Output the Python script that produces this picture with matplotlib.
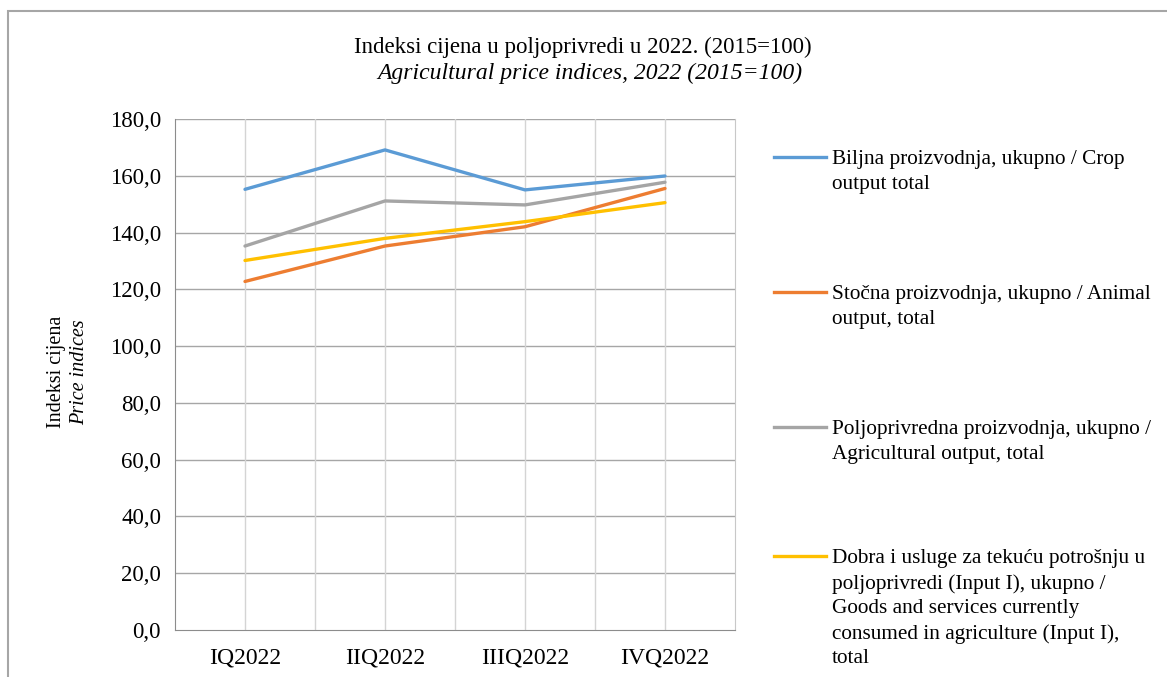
import matplotlib
matplotlib.use("Agg")
import matplotlib.pyplot as plt
from matplotlib.lines import Line2D
from matplotlib.patches import Rectangle

categories = ["IQ2022", "IIQ2022", "IIIQ2022", "IVQ2022"]
crop = [155.3, 169.2, 155.1, 160.0]
animal = [122.8, 135.3, 142.1, 155.6]
agri = [135.3, 151.2, 149.8, 157.8]
inputs = [130.2, 138.0, 143.9, 150.6]
labels = [
    "Biljna proizvodnja, ukupno / Crop\noutput total",
    "Stočna proizvodnja, ukupno / Animal\noutput, total",
    "Poljoprivredna proizvodnja, ukupno /\nAgricultural output, total",
    "Dobra i usluge za tekuću potrošnju u\npoljoprivredi (Input I), ukupno /\nGoods and services currently\nconsumed in agriculture (Input I),\ntotal",
]
colors = ["#5B9BD5", "#ED7D31", "#A5A5A5", "#FFC000"]
yticks = [0, 20, 40, 60, 80, 100, 120, 140, 160, 180]

plt.rcParams['font.family'] = ['Liberation Serif', 'DejaVu Serif']

W, H = 1167, 677
fig = plt.figure(figsize=(W / 100, H / 100), dpi=100)

# border
fig.patches.append(Rectangle((8 / W, -0.1), 1.2, (H - 11) / H + 0.1, transform=fig.transFigure,
                             fill=False, edgecolor="#a6a6a6", linewidth=1.5))

left, right, top, bottom = 175, 735, 119.3, 629.6
ax = fig.add_axes([left / W, (H - bottom) / H, (right - left) / W, (bottom - top) / H])

x = list(range(len(categories)))
for series, c in zip([crop, animal, agri, inputs], colors):
    ax.plot(x, series, color=c, linewidth=2.4, solid_capstyle="round", zorder=3)

ax.set_xlim(-0.5, len(categories) - 0.5)
ax.set_ylim(0, 180)
ax.set_yticks(yticks)
ax.set_yticklabels([f"{v:.1f}".replace(".", ",") for v in yticks], fontsize=16.5)
ax.set_xticks(x)
ax.set_xticklabels(categories, fontsize=17)
ax.tick_params(axis="both", length=0)
ax.tick_params(axis="y", pad=10)
ax.tick_params(axis="x", pad=13)

for v in yticks[1:]:
    ax.axhline(v, color="#a6a6a6", linewidth=1.0, zorder=1)
for xv in [i * 0.5 - 0.5 for i in range(1, 2 * len(categories))]:
    ax.axvline(xv, color="#d4d4d4", linewidth=1.0, zorder=1)

ax.spines["top"].set_visible(False)
ax.spines["right"].set_color("#c8c8c8")
ax.spines["left"].set_color("#8c8c8c")
ax.spines["bottom"].set_color("#8c8c8c")

# title
fig.text(583 / W, 1 - 47 / H, "Indeksi cijena u poljoprivredi u 2022. (2015=100)",
         ha="center", va="center", fontsize=16.5)
fig.text(590 / W, 1 - 73 / H, "Agricultural price indices, 2022 (2015=100)",
         ha="center", va="center", fontsize=17, style="italic")

# y label
fig.text(56 / W, 1 - 372 / H, "Indeksi cijena", rotation=90, ha="center", va="center", fontsize=14.5)
fig.text(80 / W, 1 - 372 / H, "Price indices", rotation=90, ha="center", va="center",
         fontsize=14.5, style="italic")

# legend
entry_y = [157, 292, 427, 556]
for lab, c, yy in zip(labels, colors, entry_y):
    fig.add_artist(Line2D([774 / W, 826 / W], [1 - yy / H, 1 - yy / H], color=c,
                          linewidth=2.4, transform=fig.transFigure))
    fig.text(832 / W, 1 - (yy - 7) / H, lab, ha="left", va="top", fontsize=15.3,
             linespacing=1.4)

fig.savefig("out.png", dpi=100)
